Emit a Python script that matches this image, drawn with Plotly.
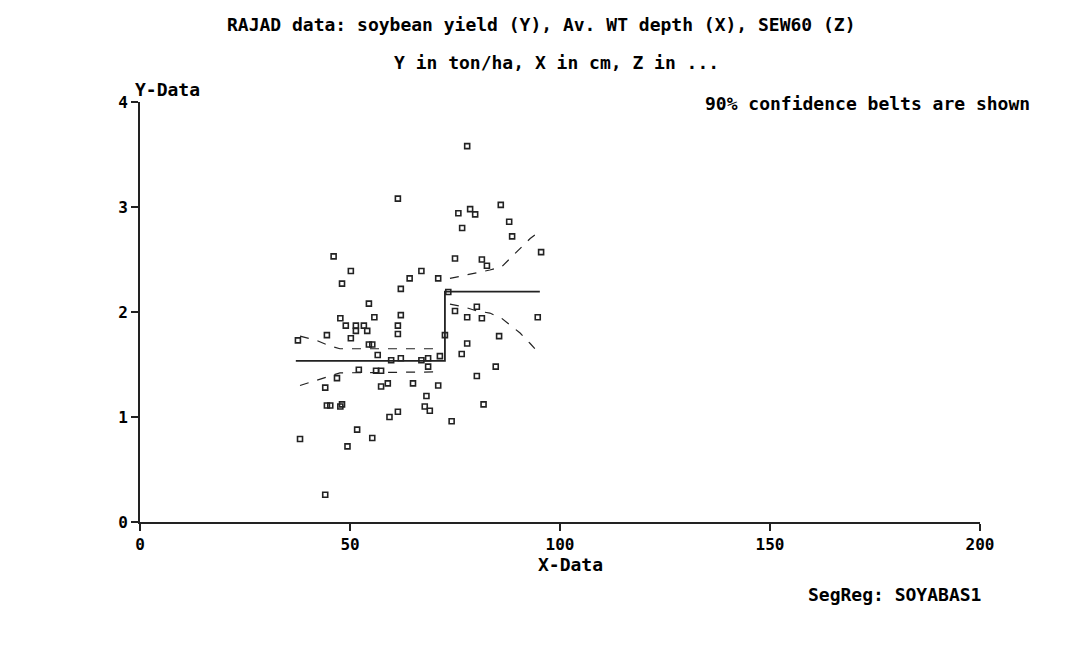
import plotly.graph_objects as go

# Observed data (X = Av. WT depth in cm, Y = soybean yield in ton/ha)
x_data = [61.4, 75.8, 76.7, 46.1, 75.0, 50.2, 67.0, 64.2, 71.0, 48.1,
          62.1, 54.5, 75.0, 47.7, 55.8, 62.1, 49.0, 51.4, 53.3, 61.4,
          44.5, 51.4, 54.1, 61.4, 50.2, 37.6, 72.6, 54.5, 55.3, 56.6,
          62.1, 59.8, 67.0, 68.6, 71.4, 68.6, 52.1, 56.2, 57.4, 46.9,
          59.0, 57.4, 65.0, 71.0, 44.1, 68.2, 44.5, 45.3, 48.1, 47.7,
          67.8, 69.0, 61.4, 59.4, 74.2, 51.7, 55.3, 38.1, 49.4, 44.1,
          77.9, 85.9, 78.6, 79.8, 87.9, 88.6, 95.5, 81.4, 82.6, 80.2,
          77.9, 81.4, 94.7, 85.5, 77.9, 76.6, 84.7, 80.2, 81.8, 73.4]
y_data = [3.08, 2.94, 2.80, 2.53, 2.51, 2.39, 2.39, 2.32, 2.32, 2.27,
          2.22, 2.08, 2.01, 1.94, 1.95, 1.97, 1.87, 1.87, 1.87, 1.87,
          1.78, 1.82, 1.82, 1.79, 1.75, 1.73, 1.78, 1.69, 1.69, 1.59,
          1.56, 1.54, 1.54, 1.56, 1.58, 1.48, 1.45, 1.44, 1.44, 1.37,
          1.32, 1.29, 1.32, 1.30, 1.28, 1.20, 1.11, 1.11, 1.12, 1.10,
          1.10, 1.06, 1.05, 1.00, 0.96, 0.88, 0.80, 0.79, 0.72, 0.26,
          3.58, 3.02, 2.98, 2.93, 2.86, 2.72, 2.57, 2.50, 2.44, 2.05,
          1.95, 1.94, 1.95, 1.77, 1.70, 1.60, 1.48, 1.39, 1.12, 2.19]

# Segmented regression (step) line
step_x = [37.1, 72.6, 72.6, 95.2]
step_y = [1.535, 1.535, 2.195, 2.195]

# 90% confidence belts, left segment
belt_l_x = [38.1, 42.0, 45.0, 47.6, 71.8]
belt_l_up = [1.77, 1.73, 1.68, 1.65, 1.65]
belt_l_lo = [1.30, 1.35, 1.39, 1.42, 1.43]

# 90% confidence belts, right segment
belt_r_x = [73.8, 77.0, 80.2, 83.3, 86.1, 88.1, 90.5, 92.9, 94.9]
belt_r_up = [2.32, 2.345, 2.37, 2.40, 2.43, 2.51, 2.61, 2.70, 2.76]
belt_r_lo = [2.075, 2.05, 2.01, 1.99, 1.94, 1.88, 1.80, 1.70, 1.61]

x_ticks = [0, 50, 100, 150, 200]
y_ticks = [0, 1, 2, 3, 4]

INK = "#222222"
FONT = "DejaVu Sans Mono"
FS = 18
TFS = 16

fig = go.Figure()
dash_style = dict(color=INK, width=1.2, dash="dash")
for bx, by in [(belt_l_x, belt_l_up), (belt_l_x, belt_l_lo),
               (belt_r_x, belt_r_up), (belt_r_x, belt_r_lo)]:
    fig.add_trace(go.Scatter(x=bx, y=by, mode="lines", line=dash_style,
                             hoverinfo="skip"))
fig.add_trace(go.Scatter(x=step_x, y=step_y, mode="lines",
                         line=dict(color=INK, width=1.8)))
fig.add_trace(go.Scatter(x=x_data, y=y_data, mode="markers",
                         marker=dict(symbol="square-open", size=5,
                                     color=INK, line=dict(width=1.6, color=INK))))

W, H = 1073, 646
L, R, T, B = 140, 980, 102, 521.7


def px(xp):
    return (xp - L) / (R - L)


def py(yp):
    return (B - yp) / (B - T)


font = dict(family=FONT, size=FS, color="black")
ann = [
    dict(text="<b>RAJAD data: soybean yield (Y), Av. WT depth (X), SEW60 (Z)</b>",
         x=px(541), y=py(25), xanchor="center", yanchor="middle"),
    dict(text="<b>Y in ton/ha, X in cm, Z in ...</b>",
         x=px(556), y=py(63), xanchor="center", yanchor="middle"),
    dict(text="<b>Y-Data</b>", x=px(133), y=py(90), xanchor="left", yanchor="middle"),
    dict(text="<b>90% confidence belts are shown</b>",
         x=px(1032), y=py(103), xanchor="right", yanchor="middle"),
    dict(text="<b>X-Data</b>", x=px(570), y=py(564), xanchor="center", yanchor="middle"),
    dict(text="<b>SegReg: SOYABAS1</b>", x=px(983), y=py(594),
         xanchor="right", yanchor="middle"),
]
for a in ann:
    a.update(xref="paper", yref="paper", showarrow=False, font=font)

axis_common = dict(showline=True, linecolor=INK, linewidth=2, showgrid=False,
                   zeroline=False, ticks="outside", ticklen=7, tickwidth=2,
                   tickcolor=INK, tickfont=dict(family=FONT, size=TFS, color="black",
                                                weight="bold"))
fig.update_layout(
    width=W, height=H,
    margin=dict(l=L, r=W - R, t=T, b=H - B, autoexpand=False),
    paper_bgcolor="white", plot_bgcolor="white",
    showlegend=False,
    annotations=ann,
    xaxis=dict(range=[0, 200], tickvals=x_ticks, **axis_common),
    yaxis=dict(range=[0, 4], tickvals=y_ticks, **axis_common),
)
fig.write_html("out.html")
